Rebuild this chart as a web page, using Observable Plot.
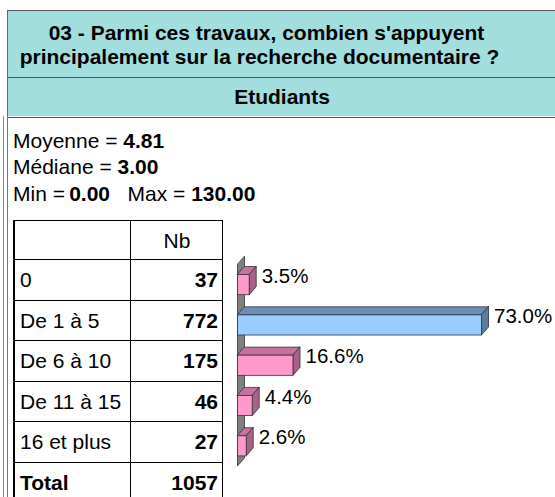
<!DOCTYPE html>
<html><head><meta charset="utf-8">
<script src="https://cdn.jsdelivr.net/npm/d3@7"></script>
<script src="https://cdn.jsdelivr.net/npm/@observablehq/plot@0.6"></script>
<style>
html,body{margin:0;padding:0;background:#fff}
body{width:555px;height:497px;overflow:hidden;position:relative;font-family:"Liberation Sans",Arial,sans-serif;color:#000}
.abs{position:absolute;box-sizing:border-box}
#header{left:7px;top:10px;width:560px;height:106px;background:#A3DEDF;border-top:1.5px solid #555;border-left:1px solid #666}
.tline{position:absolute;left:0;width:503px;text-align:center;font-weight:bold;font-size:21px;line-height:25px;white-space:nowrap}
#grp{position:absolute;left:0;top:66px;width:548px;height:39px;border-top:1px solid #555;border-bottom:1px solid #555;text-align:center;font-weight:bold;font-size:21px;line-height:38px}
.stat{left:13px;font-size:21px;line-height:26px;white-space:nowrap}
.cell{font-size:21px;white-space:nowrap;border-top:1px solid #000;border-left:1px solid #000;padding:0 4px 0 5px}
#chart{left:225px;top:245px}
</style></head><body>
<div class="abs" style="left:3px;top:116px;width:1px;height:381px;background:#888"></div>
<div class="abs" style="left:7px;top:116px;width:1px;height:381px;background:#777"></div>
<div id="header" class="abs"></div>
<div id="chart" class="abs"></div>
<script>
// ---- data ----
const titleLines = ["03 - Parmi ces travaux, combien s'appuyent", "principalement sur la recherche documentaire ?"];
const groupName = "Etudiants";
const statNames = ["Moyenne", "Médiane", "Min", "Max"];
const statValues = ["4.81", "3.00", "0.00", "130.00"];
const colHeader = "Nb";
const categories = ["0", "De 1 à 5", "De 6 à 10", "De 11 à 15", "16 et plus"];
const counts = [37, 772, 175, 46, 27];
const totalLabel = "Total";
const totalCount = 1057;
const percents = [3.5, 73.0, 16.6, 4.4, 2.6];

// ---- header ----
const header = document.getElementById("header");
titleLines.forEach((t, i) => {
  const d = document.createElement("div");
  d.className = "tline";
  d.style.top = (9 + i * 24) + "px";
  if (i === 0) d.style.paddingLeft = "14px", d.style.boxSizing = "border-box";
  d.textContent = t;
  header.appendChild(d);
});
const g = document.createElement("div");
g.id = "grp"; g.textContent = groupName; header.appendChild(g);

// ---- stats ----
function stat(top, html) {
  const d = document.createElement("div");
  d.className = "abs stat"; d.style.top = top + "px"; d.innerHTML = html;
  document.body.appendChild(d);
}
stat(128, `${statNames[0]} = <b>${statValues[0]}</b>`);
stat(154, `${statNames[1]} = <b>${statValues[1]}</b>`);
stat(181, `${statNames[2]} =&thinsp;<b>${statValues[2]}</b>&nbsp;&nbsp; ${statNames[3]} = <b>${statValues[3]}</b>`);

// ---- table ----
const T = {left: 13, top: 220, c1: 117, c2: 92, h0: 39, h: 40.5};
function cell(x, y, w, h, html, align, bold, extra) {
  const d = document.createElement("div");
  d.className = "abs cell";
  Object.assign(d.style, {left: x + "px", top: y + "px", width: w + "px", height: h + "px",
    lineHeight: (h - 1) + "px", textAlign: align, fontWeight: bold ? "bold" : "normal"}, extra || {});
  d.innerHTML = html;
  document.body.appendChild(d);
}
const rowsT = [[" ", colHeader, true]].concat(categories.map((c, i) => [c, String(counts[i]), false]))
  .concat([[totalLabel, String(totalCount), false, true]]);
rowsT.forEach((r, k) => {
  const y = k === 0 ? T.top : T.top + T.h0 + (k - 1) * T.h;
  const h = k === 0 ? T.h0 : T.h;
  cell(T.left, y, T.c1 + 1, h + 1, r[0], "left", !!r[3], {borderLeft: "2px solid #000"});
  cell(T.left + T.c1, y, T.c2 + 1, h + 1, r[1], r[2] ? "center" : "right", !r[2], {borderRight: "1px solid #000"});
});

// ---- 3D bar chart ----
const DX = 2.1, DY = 0.2, H = 0.25;
const maxV = d3.max(percents);
const rows = categories.map((c, i) => ({c, i, v: percents[i], hi: percents[i] === maxV}));
const pal = {front: ["#FF99CC", "#99CCFF"], top: ["#C9709F", "#6B8DBA"], side: ["#A8628A", "#5B7B9C"]};
const pick = (key) => (d) => pal[key][d.hi ? 1 : 0];

const wall = [
  {x1: 0, y1: -0.5, x2: DX, y2: -0.5 - DY},
  {x1: 0, y1: 4.5, x2: DX, y2: 4.5 - DY}
];
const topFaces = rows.flatMap(d => [
  {k: d.i, hi: d.hi, x1: 0, y1: d.i - H, x2: DX, y2: d.i - H - DY},
  {k: d.i, hi: d.hi, x1: d.v, y1: d.i - H, x2: d.v + DX, y2: d.i - H - DY}
]);
const sideFaces = rows.flatMap(d => [
  {k: d.i, hi: d.hi, x1: d.v, y1: d.i - H, x2: d.v + DX, y2: d.i - H - DY},
  {k: d.i, hi: d.hi, x1: d.v, y1: d.i + H, x2: d.v + DX, y2: d.i + H - DY}
]);

const chart = Plot.plot({
  width: 330, height: 235,
  margin: 0,
  style: {fontFamily: "Liberation Sans, Arial, sans-serif", background: "transparent", overflow: "visible"},
  x: {domain: [0, 90], range: [12.5, 313.3], axis: null},
  y: {domain: [-0.5, 4.5], range: [19.5, 221], axis: null},
  color: {type: "identity"},
  marks: [
    Plot.area(wall, {x1: "x1", y1: "y1", x2: "x2", y2: "y2", fill: "#808080", stroke: "#333", strokeWidth: 0.8}),
    Plot.area(topFaces, {x1: "x1", y1: "y1", x2: "x2", y2: "y2", z: "k", fill: pick("top"), stroke: "#333", strokeWidth: 0.8}),
    Plot.area(sideFaces, {x1: "x1", y1: "y1", x2: "x2", y2: "y2", z: "k", fill: pick("side"), stroke: "#333", strokeWidth: 0.8}),
    Plot.rect(rows, {x1: 0, x2: "v", y1: d => d.i - H, y2: d => d.i + H, fill: pick("front"), stroke: "#333", strokeWidth: 0.8}),
    Plot.text(rows, {x: d => d.v + DX, y: d => d.i - 0.22, text: d => d.v.toFixed(1) + "%", textAnchor: "start", dx: 5, fontSize: 20.5, fill: "#000"})
  ]
});
document.getElementById("chart").appendChild(chart);
</script>
</body></html>
